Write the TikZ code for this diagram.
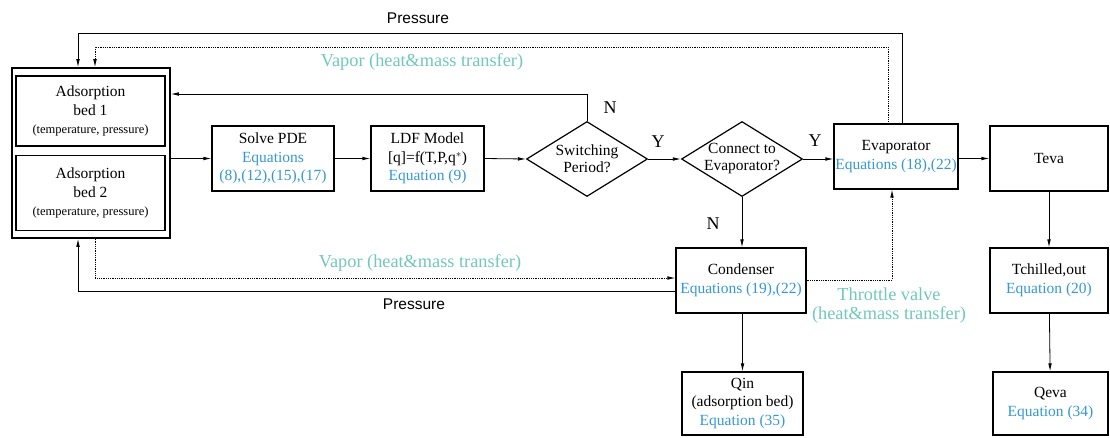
\documentclass[tikz,border=0pt]{standalone}
\usepackage{fontspec}
\setmainfont{Liberation Serif}
\newfontfamily\presfont{Liberation Sans}
\usetikzlibrary{arrows.meta}
\usetikzlibrary{positioning}
\usetikzlibrary{shapes.geometric}
\definecolor{eqblue}{RGB}{52,152,210}
\definecolor{vteal}{RGB}{112,200,190}
\tikzset{block/.style = {draw, line width=1.2pt, align=center, inner sep=0pt,
                         font=\fontsize{15.5}{18.5}\selectfont},
         decision/.style = {draw, diamond, line width=1.2pt, inner sep=0pt,
                            minimum width=121pt, minimum height=75pt},
         flow/.style = {line width=0.8pt, -{Latex[length=8pt, width=3.6pt]}},
         dotflow/.style = {flow, densely dotted},
         yn/.style = {font=\fontsize{18}{20}\selectfont},
         vapor/.style = {vteal, align=center, font=\fontsize{18.3}{19}\selectfont},
         pres/.style = {font=\presfont\fontsize{15.5}{18}\selectfont}}
\newcommand{\eqn}[1]{\textcolor{eqblue}{#1}}
\newcommand{\bedsmall}{\fontsize{12.5}{14}\selectfont}

\begin{document}
\begin{tikzpicture}[x=1pt, y=-1pt]
    \useasboundingbox (0, 0) rectangle (1110, 437);

    % adsorption beds
    \node [draw, line width=1.6pt, minimum width=158pt, minimum height=170pt] (adsorber) at (91, 153) {};
    \node [block, minimum width=149pt, minimum height=70pt] (bed1) at (90.5, 111) {Adsorption\\bed 1\\{\bedsmall (temperature, pressure)}};
    \node [block, minimum width=149pt, minimum height=75pt] (bed2) at (90.5, 193) {Adsorption\\bed 2\\{\bedsmall (temperature, pressure)}};

    \node [block, minimum width=122pt, minimum height=65pt] (solve) at (273, 158.5) {Solve PDE\\\eqn{Equations}\\\eqn{(8),(12),(15),(17)}};
    \node [block, minimum width=113pt, minimum height=65pt] (ldf) at (427.5, 158.5) {LDF Model\\{[q]=f(T,P,q$^{*}$)}\\\eqn{Equation (9)}};

    \node [decision, label={[align=center, font=\fontsize{15.5}{17}\selectfont]center:Switching\\Period?}] (switch) at (587, 159) {};
    \node [decision, label={[align=center, font=\fontsize{15.5}{17}\selectfont]center:Connect to\\Evaporator?}] (connect) at (742, 159) {};

    \node [block, minimum width=124pt, minimum height=65pt] (evap) at (896, 156.5) {Evaporator\\\eqn{Equations (18),(22)}};
    \node [block, minimum width=118pt, minimum height=65pt] (teva) at (1049, 158.5) {Teva};
    \node [block, minimum width=118pt, minimum height=65pt] (tchill) at (1049, 280.5) {Tchilled,out\\\eqn{Equation (20)}};
    \node [block, minimum width=115pt, minimum height=63pt] (qeva) at (1050.5, 403.5) {Qeva\\\eqn{Equation (34)}};

    \node [block, minimum width=130pt, minimum height=65pt] (cond) at (741, 280.5) {Condenser\\\eqn{Equations (19),(22)}};
    \node [block, minimum width=121pt, minimum height=63pt] (qin) at (742.5, 403.5) {Qin\\(adsorption bed)\\\eqn{Equation (35)}};

    % bend points
    \coordinate (pL) at (78, 33);
    \coordinate (pR) at (902, 33);
    \coordinate (vL) at (95, 47);
    \coordinate (vR) at (888, 47);
    \coordinate (nfb) at (587, 94);
    \coordinate (vb) at (95, 278);
    \coordinate (pb) at (78, 291);
    \coordinate (tv) at (892, 280);

    % main flow
    \draw [flow] (adsorber.east |- solve.west) -- (solve.west);
    \draw [flow] (solve) -- (ldf);
    \draw [flow] (ldf.east) -- (switch.west);
    \draw [flow] (switch.east) -- (connect.west);
    \draw [flow] (connect.east) -- (evap.west |- connect.east);
    \draw [flow] (connect.south) -- (cond.north -| connect.south);
    \draw [flow] (switch.north) -- (nfb) -- (nfb -| adsorber.east);
    \draw [flow] (evap.east |- teva.west) -- (teva.west);
    \draw [flow] (teva) -- (tchill);
    \draw [flow] (tchill) -- (qeva);
    \draw [flow] (cond.south -| qin.north) -- (qin.north);

    % feedback to the beds
    \draw [flow] (evap.north -| pR) -- (pR) -- (pL) -- (pL |- adsorber.north);
    \draw [dotflow] (evap.north -| vR) -- (vR) -- (vL) -- (vL |- adsorber.north);
    \draw [dotflow] (vb |- adsorber.south) -- (vb) -- (vb -| cond.west);
    \draw [flow] (pb -| cond.west) -- (pb) -- (pb |- adsorber.south);
    \draw [dotflow] (tv -| cond.east) -- (tv) -- (tv |- evap.south);

    % labels
    \node [yn] (nup) at (610, 108) {N};
    \node [yn] (ylft) at (658, 142) {Y};
    \node [yn] (yrgt) at (815, 141) {Y};
    \node [yn] (ndown) at (713, 224) {N};
    \node [pres] (prtop) at (418, 18) {Pressure};
    \node [pres] (prbot) at (414, 304) {Pressure};
    \node [vapor] (vatop) at (422, 62) {Vapor (heat\&mass transfer)};
    \node [vapor] (vabot) at (420, 263) {Vapor (heat\&mass transfer)};
    \node [vapor] (thr) at (889, 306) {Throttle valve\\(heat\&mass transfer)};
\end{tikzpicture}
\end{document}
